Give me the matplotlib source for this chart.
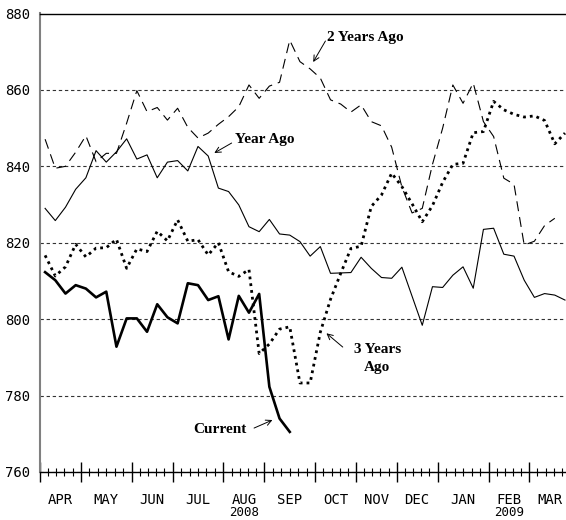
import matplotlib
matplotlib.use("Agg")
import matplotlib.pyplot as plt
from matplotlib.transforms import blended_transform_factory

plt.rcParams['lines.scale_dashes'] = False

months = ["APR", "MAY", "JUN", "JUL", "AUG", "SEP", "OCT", "NOV", "DEC", "JAN", "FEB", "MAR"]
weeks_per_month = [4, 5, 4, 5, 4, 5, 4, 4, 4, 5, 4, 4]
year_labels = {"AUG": "2008", "FEB": "2009"}
y_ticks = [760, 780, 800, 820, 840, 860, 880]

# weekly values, first week of April onward
current = [812.3, 810.2, 806.7, 808.9, 808.0, 805.7, 807.2, 792.8, 800.2, 800.2,
           796.7, 803.9, 800.5, 798.9, 809.4, 808.9, 805.0, 806.0, 794.7, 806.1,
           801.7, 806.6, 782.3, 774.0, 770.5]

year_ago = [829.0, 825.8, 829.3, 834.0, 837.0, 844.1, 841.1, 843.8, 847.2, 841.9,
            843.0, 837.0, 841.1, 841.5, 838.8, 845.2, 842.7, 834.3, 833.4, 829.9,
            824.2, 822.9, 826.1, 822.3, 822.0, 820.3, 816.5, 819.0, 812.0, 812.1,
            812.2, 816.2, 813.3, 810.9, 810.7, 813.6, 806.0, 798.4, 808.5, 808.3,
            811.5, 813.7, 808.1, 823.5, 823.8, 817.0, 816.5, 810.2, 805.7, 806.7,
            806.3, 805.0]

two_years_ago = [847.1, 839.5, 840.0, 843.7, 848.0, 841.2, 843.4, 843.4, 851.3, 859.8,
                 854.3, 855.4, 852.1, 855.2, 850.2, 847.4, 848.7, 851.0, 853.0, 855.6,
                 861.3, 857.8, 861.0, 862.0, 873.0, 867.4, 865.5, 863.1, 857.4, 856.3,
                 854.2, 856.1, 851.7, 850.6, 845.0, 834.6, 827.8, 829.0, 840.5, 850.0,
                 861.3, 856.5, 861.8, 851.7, 847.8, 836.9, 835.3, 819.4, 820.4, 824.5,
                 826.4]

three_years_ago = [816.7, 811.3, 813.7, 819.6, 816.3, 818.6, 818.7, 820.9, 813.3, 818.4,
                   817.7, 823.0, 820.5, 826.0, 820.4, 820.8, 816.8, 820.0, 812.4, 811.2,
                   813.0, 791.0, 793.5, 797.4, 798.0, 783.3, 783.3, 796.6, 805.2, 812.0,
                   818.5, 819.1, 829.5, 832.5, 838.2, 834.7, 830.2, 825.5, 829.7, 835.8,
                   840.5, 840.8, 848.8, 849.1, 857.0, 854.8, 853.6, 852.9, 853.2, 852.0,
                   845.9, 848.7]

fig = plt.figure(figsize=(5.66, 5.2), dpi=100)
ax = fig.add_axes([40 / 566, 48 / 520, 526 / 566, 458.5 / 520])

ax.plot(range(len(two_years_ago)), two_years_ago, color='black', lw=0.8,
        dashes=(7.2, 4.3), zorder=3)
ax.plot(range(len(year_ago)), year_ago, color='black', lw=0.8, zorder=3)
ax.plot(range(len(three_years_ago)), three_years_ago, color='black', lw=2.0,
        dashes=(2.0, 2.9), zorder=4)
ax.plot(range(len(current)), current, color='black', lw=1.9, zorder=5)

ax.set_xlim(-0.5, 51.1)
ax.set_ylim(760, 880)

# month edges and weekly minor ticks
edges = [-0.5]
for n in weeks_per_month:
    edges.append(edges[-1] + n)
minor = []
for i, n in enumerate(weeks_per_month):
    step = (edges[i + 1] - edges[i]) / (n + 1)
    minor += [edges[i] + step * (k + 1) for k in range(n)]
ax.set_xticks(edges[:-1])
ax.set_xticks(minor, minor=True)
ax.set_xticklabels([])
ax.tick_params(axis='x', which='major', direction='inout', length=14, width=1.0)
ax.tick_params(axis='x', which='minor', direction='inout', length=6, width=0.8)

trans = blended_transform_factory(ax.transData, ax.transAxes)
for i, m in enumerate(months):
    c = (edges[i] + edges[i + 1]) / 2
    ax.text(c, -0.06, m, transform=trans, ha='center', va='center',
            family='DejaVu Sans Mono', fontsize=10)
    if m in year_labels:
        ax.text(c, -0.088, year_labels[m], transform=trans, ha='center', va='center',
                family='DejaVu Sans Mono', fontsize=9)

ax.set_yticks(y_ticks)
ax.set_yticklabels([str(v) for v in y_ticks], family='DejaVu Sans Mono', fontsize=10)
ax.tick_params(axis='y', length=0, pad=7)
ax.grid(axis='y', color='#333333', lw=0.8, linestyle=(0, (2.4, 2.0)))

ax.spines['right'].set_visible(False)
ax.spines['left'].set_color('#808080')
ax.spines['left'].set_linewidth(1.5)
ax.spines['top'].set_linewidth(1.0)
ax.spines['bottom'].set_linewidth(1.0)

label_font = dict(family='Liberation Serif', fontweight='bold', fontsize=11)
arrow = dict(arrowstyle='->', lw=0.7, color='black', shrinkA=0, shrinkB=0)

ax.text(27.7, 873.6, "2 Years Ago", ha='left', va='center', **label_font)
ax.annotate('', xy=(26.3, 867.3), xytext=(27.5, 872.8), arrowprops=arrow)

ax.text(18.6, 846.9, "Year Ago", ha='left', va='center', **label_font)
ax.annotate('', xy=(16.6, 843.5), xytext=(18.3, 846.1), arrowprops=arrow)

ax.text(19.8, 771.0, "Current", ha='right', va='center', **label_font)
ax.annotate('', xy=(22.3, 773.6), xytext=(20.5, 771.5), arrowprops=arrow)

ax.text(32.6, 789.8, "3 Years\nAgo", ha='center', va='center', multialignment='center',
        linespacing=1.5, **label_font)
ax.annotate('', xy=(27.6, 796.3), xytext=(29.2, 792.7), arrowprops=arrow)

fig.savefig("out.png", dpi=100)
